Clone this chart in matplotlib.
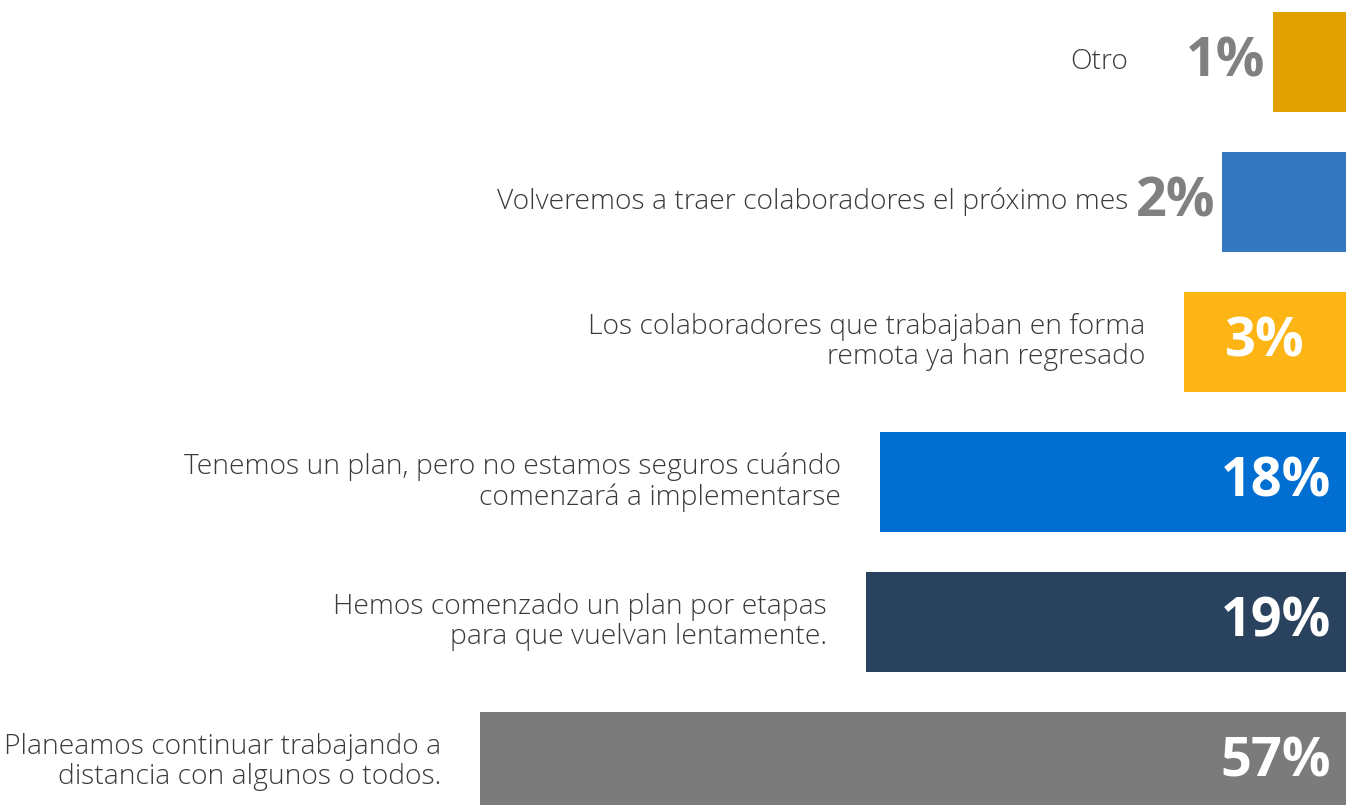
import numpy as np
import matplotlib
matplotlib.use("Agg")
import matplotlib.pyplot as plt

# survey answers, top to bottom
labels = [
    "Otro",
    "Volveremos a traer colaboradores el próximo mes",
    "Los colaboradores que trabajaban en forma\nremota ya han regresado",
    "Tenemos un plan, pero no estamos seguros cuándo\ncomenzará a implementarse",
    "Hemos comenzado un plan por etapas\npara que vuelvan lentamente.",
    "Planeamos continuar trabajando a\ndistancia con algunos o todos.",
]
values = [1, 2, 3, 18, 19, 57]
colors = ["#E0A000", "#3479BF", "#FDB515", "#006FD1", "#29425E", "#7B7B7B"]

x_base = 0.155  # where bars start on the sqrt axis

fig = plt.figure(figsize=(13.53, 8.05), dpi=100)
ax = fig.add_axes([0, 0, 1346 / 1353, 1])
ax.set_xscale("function", functions=(lambda x: np.sqrt(np.clip(x, 0, None)), lambda x: np.square(x)))

y = np.arange(len(values))
ax.barh(y, values, height=0.714, color=colors)
ax.set_xlim(132.6, x_base)
ax.set_ylim(5.307, -0.443)
ax.axis("off")

text_kw = dict(family=["Open Sans", "DejaVu Sans"], weight=300, color="#3a3a3a", fontsize=20.3)
pct_kw = dict(family=["Open Sans", "DejaVu Sans"], weight="bold", fontsize=39)

for i, (lab, v) in enumerate(zip(labels, values)):
    if v < 3:
        # small bars: grey number outside, label at fixed column
        ax.annotate(f"{v}%", xy=(v, i), xytext=(-5, 0), textcoords="offset points",
                    ha="right", va="center", color="#808080", **pct_kw)
        ax.annotate(lab, xy=(1128 / 1346, i), xycoords=("axes fraction", "data"),
                    ha="right", va="center", **text_kw)
    else:
        if v < 10:
            mid = ((np.sqrt(v) + np.sqrt(x_base)) / 2) ** 2
            ax.annotate(f"{v}%", xy=(mid, i), ha="center", va="center",
                        color="white", **pct_kw)
        else:
            ax.annotate(f"{v}%", xy=(1, i), xycoords=("axes fraction", "data"),
                        xytext=(-11, 0), textcoords="offset points",
                        ha="right", va="center", color="white", **pct_kw)
        ax.annotate(lab, xy=(v, i), xytext=(-28, 0), textcoords="offset points",
                    ha="right", va="center", multialignment="right",
                    linespacing=1.1, **text_kw)

fig.savefig("out.png", dpi=100)
